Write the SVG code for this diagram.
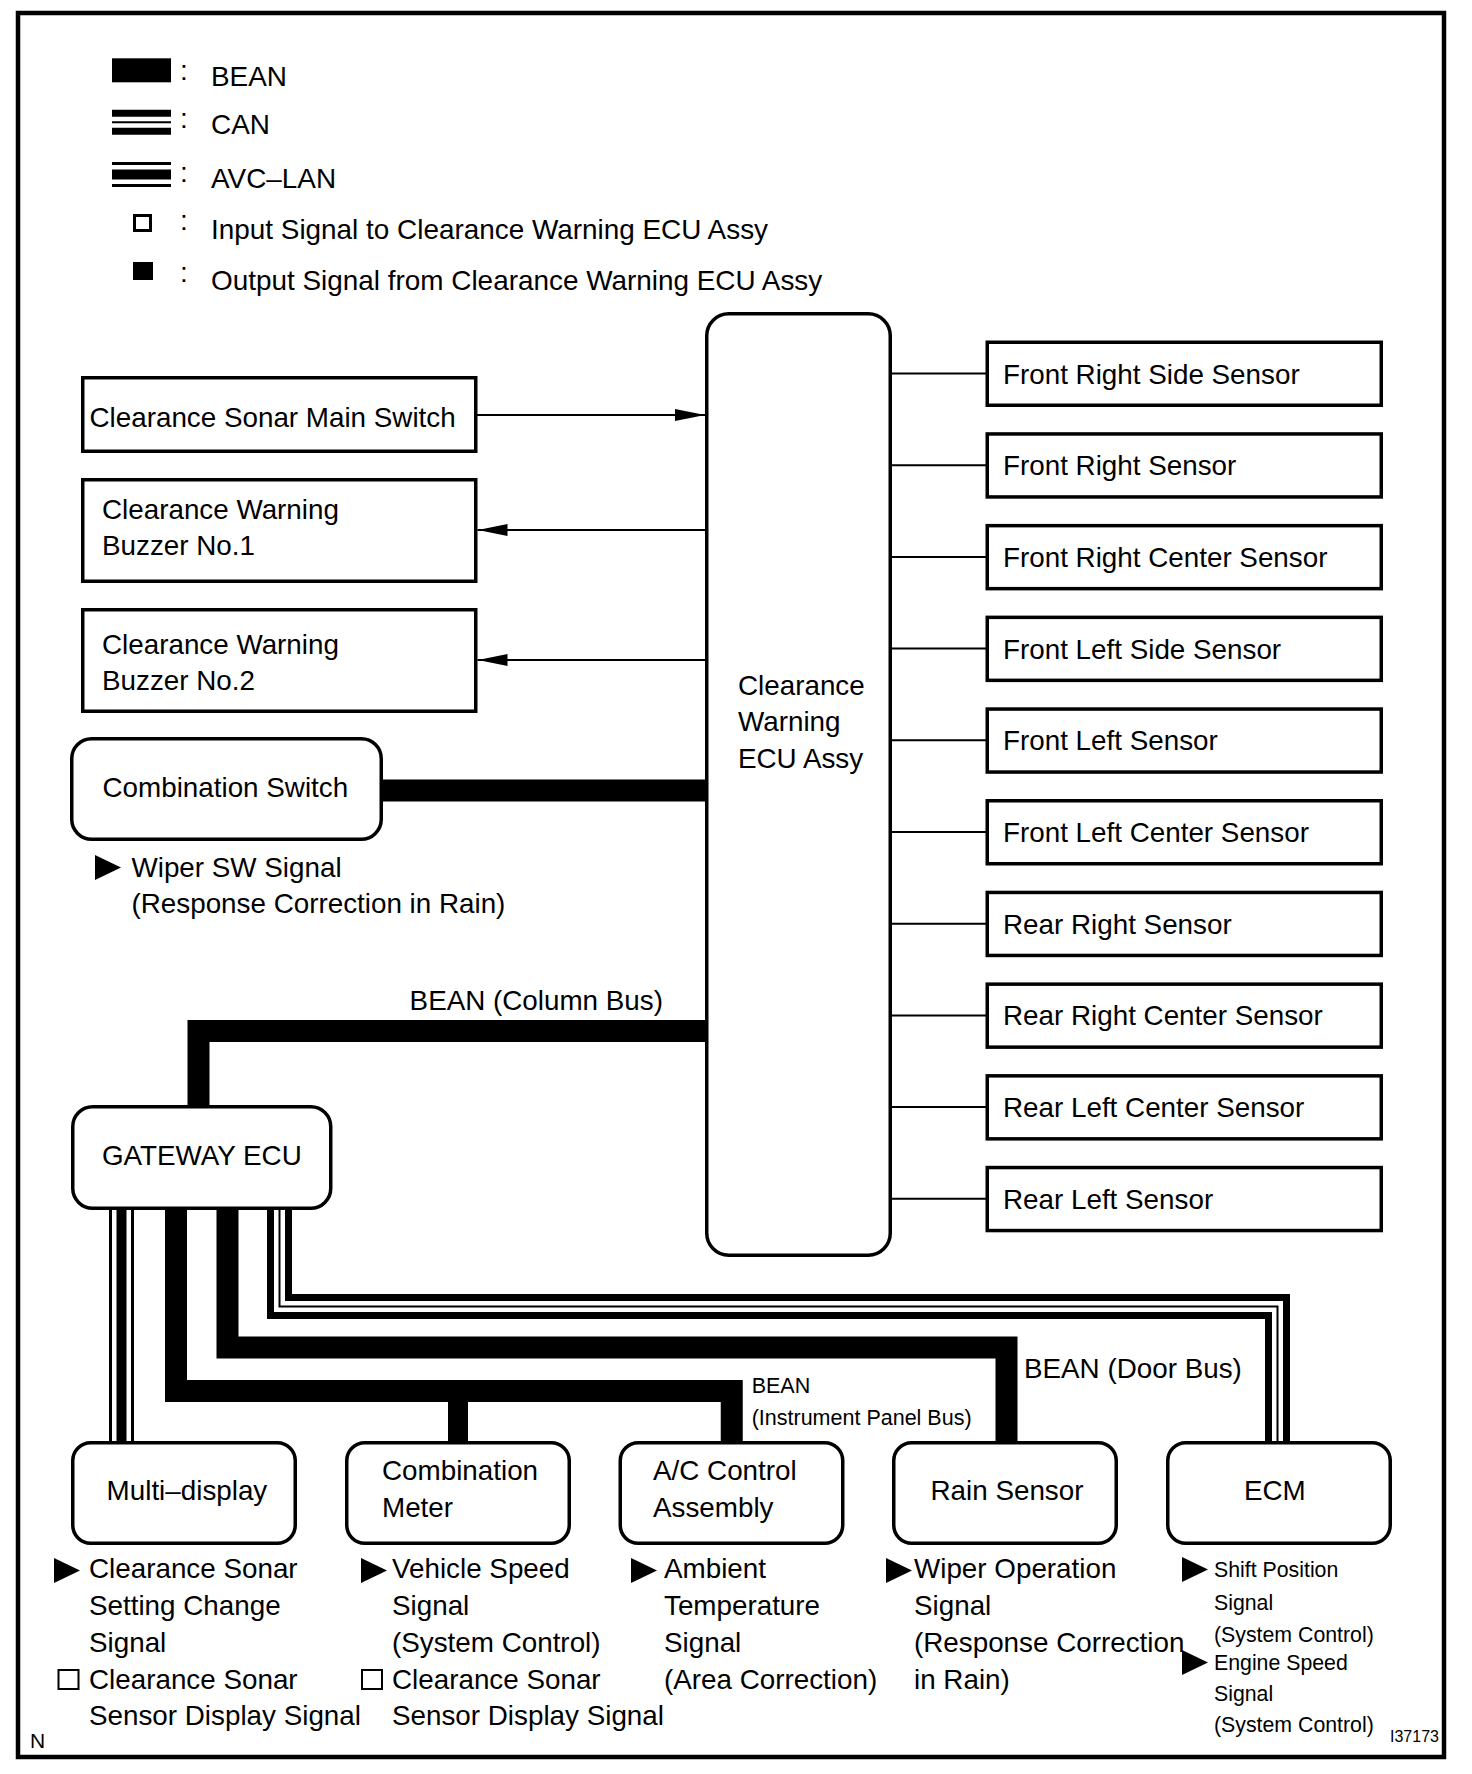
<svg xmlns="http://www.w3.org/2000/svg" xmlns:xlink="http://www.w3.org/1999/xlink" width="1472" height="1774" viewBox="0 0 1472 1774">
<style>
text{font-family:"Liberation Sans",Arial,Helvetica,sans-serif;font-size:27.8px;fill:#000}
.lg{font-size:27.9px}
.sm{font-size:21.5px}
.ecm{font-size:21.3px}
.box{fill:#fff;stroke:#000;stroke-width:3.5}
.wire{fill:none;stroke:#000;stroke-width:2}
.bean{fill:none;stroke:#000;stroke-width:22;stroke-linejoin:miter;stroke-linecap:butt}
.canA{fill:none;stroke:#000;stroke-width:25;stroke-linejoin:miter}
.canB{fill:none;stroke:#fff;stroke-width:11;stroke-linejoin:miter}
.canC{fill:none;stroke:#000;stroke-width:2;stroke-linejoin:miter}
.avcA{fill:none;stroke:#000;stroke-width:25;stroke-linejoin:miter}
.avcB{fill:none;stroke:#fff;stroke-width:19;stroke-linejoin:miter}
.avcC{fill:none;stroke:#000;stroke-width:10;stroke-linejoin:miter}
.hsq{fill:#fff;stroke:#000;stroke-width:2}
</style>
<defs>
<marker id="arr" markerUnits="userSpaceOnUse" markerWidth="30" markerHeight="12" refX="30" refY="6" orient="auto"><path d="M0,0 L30,6 L0,12 z" fill="#000"/></marker>
<polygon id="tri" points="0,0 26,12.5 0,25" fill="#000"/>
</defs>
<rect x="0" y="0" width="1472" height="1774" fill="#fff"/>
<rect x="18" y="13" width="1426" height="1744" fill="none" stroke="#000" stroke-width="4.5"/>

<g id="legend">
<rect x="112" y="58.3" width="59" height="24" fill="#000"/>
<path class="canA" d="M112,122.2 H171"/><path class="canB" d="M112,122.2 H171"/><path class="canC" d="M112,122.2 H171"/>
<path class="avcA" d="M112,174.5 H171"/><path class="avcB" d="M112,174.5 H171"/><path class="avcC" d="M112,174.5 H171"/>
<rect x="134.5" y="215.5" width="16" height="15" fill="none" stroke="#000" stroke-width="3"/>
<rect x="133" y="262" width="20" height="18" fill="#000"/>
<text x="180" y="80">:</text>
<text x="180" y="128">:</text>
<text x="180" y="182">:</text>
<text x="180" y="230">:</text>
<text x="180" y="282">:</text>
<text class="lg" x="211" y="86">BEAN</text>
<text class="lg" x="211" y="134">CAN</text>
<text class="lg" x="211" y="188">AVC–LAN</text>
<text class="lg" x="211" y="238.5">Input Signal to Clearance Warning ECU Assy</text>
<text class="lg" x="211" y="290">Output Signal from Clearance Warning ECU Assy</text>
</g>

<g id="connectors">
<path class="wire" d="M476,415 H705" marker-end="url(#arr)"/>
<path class="wire" d="M707,530 H477.5" marker-end="url(#arr)"/>
<path class="wire" d="M707,660 H477.5" marker-end="url(#arr)"/>
<path class="wire" d="M890,373.5 H987 M890,465.2 H987 M890,556.9 H987 M890,648.6 H987 M890,740.3 H987 M890,832 H987 M890,923.7 H987 M890,1015.4 H987 M890,1107.1 H987 M890,1198.8 H987"/>
<path class="bean" d="M381,790.5 H707"/>
<path class="bean" d="M707,1031 H198.5 V1107"/>
<path class="bean" d="M176,1208 V1391 H731.75 V1443"/>
<path class="bean" style="stroke-width:20" d="M458,1391 V1443"/>
<path class="bean" d="M227.5,1208 V1347.5 H1006.5 V1443"/>
<path class="canA" d="M279.5,1208 V1306.5 H1277.5 V1443"/>
<path class="canB" d="M279.5,1208 V1306.5 H1277.5 V1443"/>
<path class="canC" d="M279.5,1208 V1306.5 H1277.5 V1443"/>
<path class="avcA" d="M121.5,1208 V1443"/>
<path class="avcB" d="M121.5,1208 V1443"/>
<path class="avcC" d="M121.5,1208 V1443"/>
</g>

<g id="main-switch"><rect class="box" x="82.75" y="377.75" width="393" height="73.5"/><text x="89.5" y="426.5">Clearance Sonar Main Switch</text></g>
<g id="buzzer1"><rect class="box" x="82.75" y="479.75" width="393" height="101.5"/><text x="102" y="518.5">Clearance Warning</text><text x="102" y="555">Buzzer No.1</text></g>
<g id="buzzer2"><rect class="box" x="82.75" y="609.75" width="393" height="101.5"/><text x="102" y="653.5">Clearance Warning</text><text x="102" y="690">Buzzer No.2</text></g>
<g id="combination-switch"><rect class="box" x="71.75" y="738.75" width="309.5" height="100.5" rx="20"/><text x="102.5" y="796.5">Combination Switch</text></g>
<g id="combination-switch-note"><use xlink:href="#tri" x="95" y="855"/><text x="131.5" y="877">Wiper SW Signal</text><text x="131.5" y="913">(Response Correction in Rain)</text></g>
<g id="ecu"><rect class="box" x="706.75" y="313.75" width="183.5" height="941.5" rx="22"/><text x="738" y="695">Clearance</text><text x="738" y="731">Warning</text><text x="738" y="768">ECU Assy</text></g>

<g id="sensor1"><rect class="box" x="987.25" y="342.25" width="394" height="63"/><text x="1003" y="383.5">Front Right Side Sensor</text></g>
<g id="sensor2"><rect class="box" x="987.25" y="433.95" width="394" height="63"/><text x="1003" y="475.2">Front Right Sensor</text></g>
<g id="sensor3"><rect class="box" x="987.25" y="525.65" width="394" height="63"/><text x="1003" y="566.9">Front Right Center Sensor</text></g>
<g id="sensor4"><rect class="box" x="987.25" y="617.35" width="394" height="63"/><text x="1003" y="658.6">Front Left Side Sensor</text></g>
<g id="sensor5"><rect class="box" x="987.25" y="709.05" width="394" height="63"/><text x="1003" y="750.3">Front Left Sensor</text></g>
<g id="sensor6"><rect class="box" x="987.25" y="800.75" width="394" height="63"/><text x="1003" y="842">Front Left Center Sensor</text></g>
<g id="sensor7"><rect class="box" x="987.25" y="892.45" width="394" height="63"/><text x="1003" y="933.7">Rear Right Sensor</text></g>
<g id="sensor8"><rect class="box" x="987.25" y="984.15" width="394" height="63"/><text x="1003" y="1025.4">Rear Right Center Sensor</text></g>
<g id="sensor9"><rect class="box" x="987.25" y="1075.85" width="394" height="63"/><text x="1003" y="1117.1">Rear Left Center Sensor</text></g>
<g id="sensor10"><rect class="box" x="987.25" y="1167.55" width="394" height="63"/><text x="1003" y="1208.8">Rear Left Sensor</text></g>

<g id="bus-labels">
<text x="409.6" y="1010">BEAN (Column Bus)</text>
<text class="sm" x="751.7" y="1393">BEAN</text>
<text class="sm" x="751.7" y="1425">(Instrument Panel Bus)</text>
<text x="1024" y="1378">BEAN (Door Bus)</text>
</g>

<g id="gateway"><rect class="box" x="72.75" y="1106.75" width="258" height="101.5" rx="20"/><text x="102" y="1165">GATEWAY ECU</text></g>

<g id="multi-display"><rect class="box" x="72.75" y="1442.75" width="222.5" height="100.5" rx="18"/><text x="106.6" y="1500">Multi–display</text></g>
<g id="combination-meter"><rect class="box" x="346.75" y="1442.75" width="222.5" height="100.5" rx="18"/><text x="382" y="1480">Combination</text><text x="382" y="1517">Meter</text></g>
<g id="ac-control"><rect class="box" x="620.25" y="1442.75" width="222.5" height="100.5" rx="18"/><text x="653" y="1480">A/C Control</text><text x="653" y="1517">Assembly</text></g>
<g id="rain-sensor"><rect class="box" x="893.75" y="1442.75" width="222.5" height="100.5" rx="18"/><text x="930.5" y="1500">Rain Sensor</text></g>
<g id="ecm"><rect class="box" x="1167.75" y="1442.75" width="222.5" height="100.5" rx="18"/><text x="1244" y="1500">ECM</text></g>

<g id="notes">
<use xlink:href="#tri" x="54" y="1558"/>
<text x="89" y="1578">Clearance Sonar</text>
<text x="89" y="1615">Setting Change</text>
<text x="89" y="1652">Signal</text>
<rect class="hsq" x="58.5" y="1670" width="20" height="19"/>
<text x="89" y="1689">Clearance Sonar</text>
<text x="89" y="1725">Sensor Display Signal</text>

<use xlink:href="#tri" x="361" y="1558"/>
<text x="392" y="1578">Vehicle Speed</text>
<text x="392" y="1615">Signal</text>
<text x="392" y="1652">(System Control)</text>
<rect class="hsq" x="362" y="1670" width="20" height="19"/>
<text x="392" y="1689">Clearance Sonar</text>
<text x="392" y="1725">Sensor Display Signal</text>

<use xlink:href="#tri" x="631" y="1558"/>
<text x="664" y="1578">Ambient</text>
<text x="664" y="1615">Temperature</text>
<text x="664" y="1652">Signal</text>
<text x="664" y="1689">(Area Correction)</text>

<use xlink:href="#tri" x="886" y="1558"/>
<text x="914" y="1578">Wiper Operation</text>
<text x="914" y="1615">Signal</text>
<text x="914" y="1652">(Response Correction</text>
<text x="914" y="1689">in Rain)</text>

<use xlink:href="#tri" x="1182" y="1557"/>
<text class="ecm" x="1214" y="1577">Shift Position</text>
<text class="ecm" x="1214" y="1610">Signal</text>
<text class="ecm" x="1214" y="1642">(System Control)</text>
<use xlink:href="#tri" x="1182" y="1650"/>
<text class="ecm" x="1214" y="1670">Engine Speed</text>
<text class="ecm" x="1214" y="1701">Signal</text>
<text class="ecm" x="1214" y="1732">(System Control)</text>
</g>

<text x="30" y="1748" style="font-size:21px">N</text>
<text x="1390" y="1742" style="font-size:16px">I37173</text>
</svg>
